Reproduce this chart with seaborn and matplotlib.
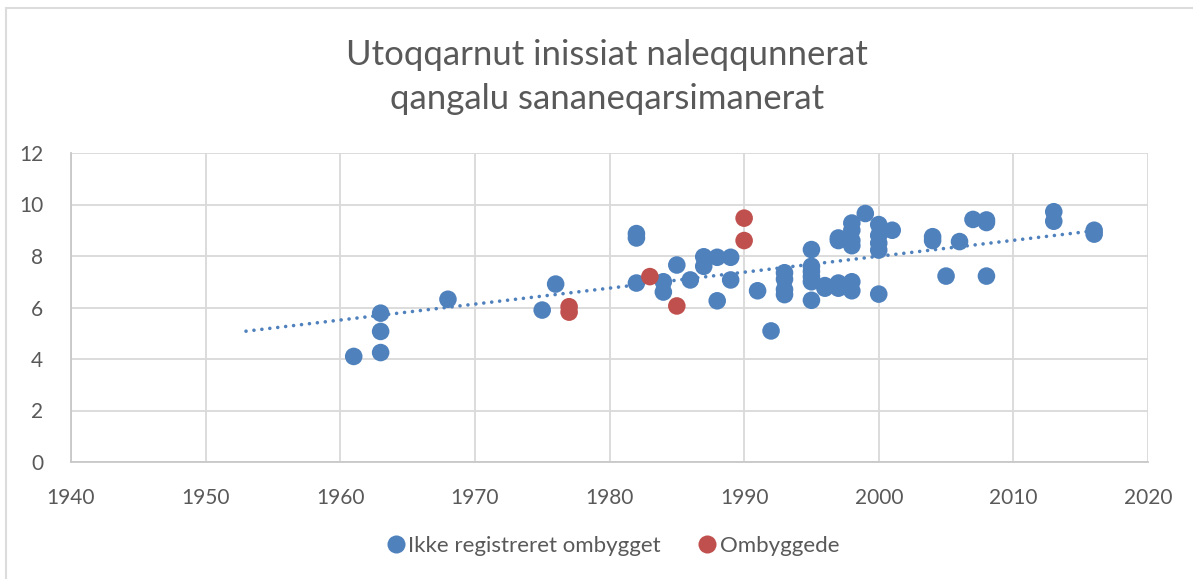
import numpy as np
import pandas as pd
import matplotlib
matplotlib.use("Agg")
import matplotlib.pyplot as plt
import seaborn as sns
from matplotlib.lines import Line2D

# ---- data ----
blue_years = [1961, 1963, 1963, 1963, 1968, 1975, 1976,
              1982, 1982, 1982, 1984, 1984, 1985, 1986, 1987, 1987,
              1988, 1988, 1989, 1989, 1991, 1992,
              1993, 1993, 1993, 1993,
              1995, 1995, 1995, 1995, 1995, 1995,
              1996, 1996, 1997, 1997, 1997, 1997,
              1998, 1998, 1998, 1998, 1998, 1998, 1999,
              2000, 2000, 2000, 2000, 2000, 2001,
              2004, 2004, 2005, 2006, 2007, 2008, 2008, 2008,
              2013, 2013, 2016, 2016]
blue_values = [4.1, 4.25, 5.07, 5.78, 6.32, 5.9, 6.91,
               8.87, 8.7, 6.95, 7.0, 6.6, 7.65, 7.07, 7.97, 7.6,
               7.95, 6.26, 7.95, 7.07, 6.65, 5.09,
               7.35, 7.1, 6.7, 6.5,
               8.25, 7.6, 7.4, 7.2, 7.0, 6.28,
               6.85, 6.75, 8.7, 8.6, 6.95, 6.75,
               9.28, 9.0, 8.6, 8.4, 7.0, 6.65, 9.65,
               9.22, 8.8, 8.5, 8.23, 6.52, 9.0,
               8.75, 8.6, 7.22, 8.56, 9.42, 9.4, 9.3, 7.22,
               9.72, 9.35, 9.0, 8.85]
red_years = [1977, 1977, 1983, 1985, 1990, 1990]
red_values = [6.03, 5.82, 7.2, 6.06, 9.47, 8.6]

# linear trendline of the blue series (end points)
trend_years = [1953, 2016]
trend_values = [5.08, 8.98]

series_names = ["Ikke registreret ombygget", "Ombyggede"]
title_text = "Utoqqarnut inissiat naleqqunnerat\nqangalu sananeqarsimanerat"
x_ticks = [1940, 1950, 1960, 1970, 1980, 1990, 2000, 2010, 2020]
y_ticks = [0, 2, 4, 6, 8, 10, 12]

df = pd.DataFrame({
    "year": blue_years + red_years,
    "value": blue_values + red_values,
    "group": [series_names[0]] * len(blue_years) + [series_names[1]] * len(red_years),
})
trend_df = pd.DataFrame({"year": trend_years, "value": trend_values})

# ---- style ----
sns.set_theme(style="white")
plt.rcParams["font.family"] = ["Lato", "DejaVu Sans"]
txt = "#595959"
grid = "#d9d9d9"
blue = "#4F81BD"
red = "#C0504D"

fig = plt.figure(figsize=(11.93, 5.79), dpi=100)
ax = fig.add_axes([71 / 1193, 1 - 462 / 579, (1148 - 71) / 1193, (462 - 153) / 579])

sns.scatterplot(data=df, x="year", y="value", hue="group",
                palette={series_names[0]: blue, series_names[1]: red},
                s=160, linewidth=0, ax=ax, legend=False, zorder=3)

sns.lineplot(data=trend_df, x="year", y="value", ax=ax, color=blue,
             linewidth=2.6, zorder=2, legend=False)
ax.lines[-1].set_linestyle((0, (0.01, 2.2)))
ax.lines[-1].set_dash_capstyle("round")

ax.set_xlim(1940, 2020)
ax.set_ylim(0, 12)
ax.set_xticks(x_ticks)
ax.set_yticks(y_ticks)
ax.set_xlabel("")
ax.set_ylabel("")
ax.grid(True, color=grid, linewidth=1.3)
ax.set_axisbelow(True)
for side in ["top", "right"]:
    ax.spines[side].set_visible(False)
for side in ["left", "bottom"]:
    ax.spines[side].set_color("#c8c8c8")
    ax.spines[side].set_linewidth(1.3)
ax.tick_params(axis="both", length=0, labelsize=15, colors=txt)
ax.tick_params(axis="y", pad=20)
ax.tick_params(axis="x", pad=19)

fig.text(607 / 1193, 1 - 77 / 579, title_text, ha="center", va="center",
         fontsize=25, color=txt, linespacing=1.45)

handles = [Line2D([0], [0], marker="o", linestyle="", markersize=13,
                  markerfacecolor=c, markeredgewidth=0) for c in (blue, red)]
fig.legend(handles, series_names, loc="center", bbox_to_anchor=(612 / 1193, 1 - 546 / 579),
           ncol=2, frameon=False, fontsize=16, labelcolor=txt, handletextpad=0.05,
           columnspacing=1.6, handlelength=1.0)

# outer chart border (top and left edges visible)
fig.add_artist(Line2D([6 / 1193, 1], [1 - 8 / 579, 1 - 8 / 579], transform=fig.transFigure,
                      color="#dcdcdc", linewidth=1.5))
fig.add_artist(Line2D([6 / 1193, 6 / 1193], [0, 1 - 8 / 579], transform=fig.transFigure,
                      color="#dcdcdc", linewidth=1.5))

fig.savefig("out.png", dpi=100, facecolor="white")
